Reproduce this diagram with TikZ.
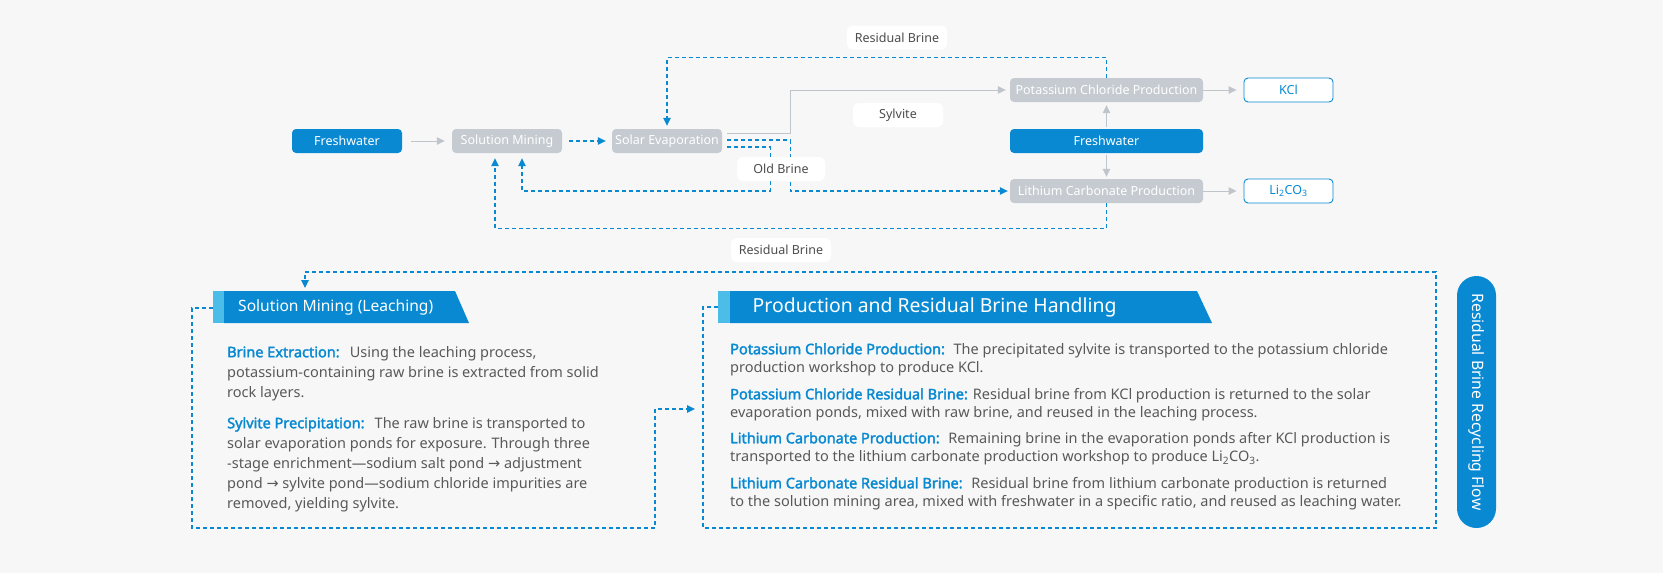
\documentclass[tikz,border=0pt]{standalone}
\usepackage{fontspec}
\setmainfont{Noto Sans}[AutoFakeBold=2.2]
\newfontfamily\symfont{DejaVu Sans}
\usetikzlibrary{arrows.meta}
\definecolor{bgc}{HTML}{F7F7F7}
\definecolor{mainblue}{HTML}{0889D2}
\definecolor{lightblue}{HTML}{4BBDE8}
\definecolor{boxgray}{HTML}{C5CBD0}
\definecolor{arrowgray}{HTML}{BFC5CA}
\definecolor{bodygray}{HTML}{595959}
\definecolor{labelgray}{HTML}{4D4D4D}
\newcommand{\hd}[1]{{\color{mainblue}\bfseries #1}}
\newcommand{\myarr}{{\symfont →}}
\begin{document}
\begin{tikzpicture}[x=1pt,y=-1pt,
  box/.style={rounded corners=4pt, minimum width=110pt, minimum height=24pt, inner sep=0pt, font=\fontsize{12.5}{14}\selectfont, text=white},
  graybox/.style={box, fill=boxgray},
  bluebox/.style={box, fill=mainblue},
  outbox/.style={box, fill=white, draw=mainblue, line width=0.9pt, text=mainblue, minimum width=89pt},
  lbl/.style={rounded corners=6pt, fill=white, minimum height=24pt, inner sep=0pt, font=\fontsize{12.5}{14}\selectfont, text=labelgray},
  garrow/.style={draw=arrowgray, line width=1pt, -{Triangle[length=8pt,width=7.5pt]}},
  darrow/.style={draw=mainblue, line width=1.1pt, dash pattern=on 4pt off 3pt, -{Triangle[length=8pt,width=7.5pt]}},
  para/.style={anchor=north west, inner sep=0pt, align=left, text=bodygray, font=\fontsize{14.5}{20}\selectfont},
  rpara/.style={para, font=\fontsize{14.5}{18.5}\selectfont},
]
\fill[bgc] (0,0) rectangle (1663,573);
\useasboundingbox (0,0) rectangle (1663,573);

% top flow
\node[bluebox] (fw1) at (347,141) {Freshwater};
\node[graybox] (sm) at (507,141) {Solution Mining};
\node[graybox] (se) at (667,141) {Solar Evaporation};
\node[graybox, minimum width=193pt] (kcp) at (1106.5,90) {Potassium Chloride Production};
\node[bluebox, minimum width=193pt] (fw2) at (1106.5,141) {Freshwater};
\node[graybox, minimum width=193pt] (lcp) at (1106.5,191) {Lithium Carbonate Production};
\node[outbox] (kcl) at (1288.5,90) {KCl};
\node[outbox] (li) at (1288.5,191) {Li\textsubscript{2}CO\textsubscript{3}};

\draw[garrow, shorten <=9pt, shorten >=7pt] (fw1) -- (sm);
\draw[darrow, shorten <=7pt, shorten >=6pt] (sm) -- (se);
\draw[darrow, shorten >=3pt] (kcp.north) -- ++(0,-20) -| (se.north);
\draw[garrow, shorten >=4pt] ([xshift=5pt,yshift=8pt]se.east) -- ++(63,0) |- (kcp.west);
\draw[darrow, shorten >=2pt] ([xshift=5pt,yshift=1pt]se.east) -- ++(63,0) |- (lcp.west);
\draw[darrow, shorten >=5pt] ([xshift=5pt,yshift=-6pt]se.east) -- ++(43,0) -- ++(0,44) -| ([xshift=15pt]sm.south);
\draw[darrow, shorten >=5pt] (lcp.south) -- ++(0,25) -| ([xshift=-12pt]sm.south);
\draw[garrow, shorten <=2pt, shorten >=3pt] (fw2) -- (kcp);
\draw[garrow, shorten <=2pt, shorten >=2pt] (fw2) -- (lcp);
\draw[garrow, shorten >=7pt] (kcp) -- (kcl);
\draw[garrow, shorten >=7pt] (lcp) -- (li);

\node[lbl, minimum width=100pt] (rb1) at (897,37.5) {Residual Brine};
\node[lbl, minimum width=90pt] (syl) at (898,115) {Sylvite};
\node[lbl, minimum width=88pt] (ob) at (781,169) {Old Brine};
\node[lbl, minimum width=100pt] (rb2) at (781,250) {Residual Brine};

% bottom headers
\fill[mainblue] (224,291) -- (455,291) -- (469,323) -- (224,323) -- cycle;
\fill[lightblue] (213,291) rectangle (224,323);
\node[anchor=west, inner sep=0pt, text=white, font=\fontsize{15.6}{18}\selectfont] (lht) at (238,307) {Solution Mining (Leaching)};
\fill[mainblue] (730,291) -- (1197,291) -- (1212,323) -- (730,323) -- cycle;
\fill[lightblue] (718,291) rectangle (730,323);
\node[anchor=west, inner sep=0pt, text=white, font=\fontsize{19.4}{22}\selectfont] (rht) at (752.5,307) {Production and Residual Brine Handling};

\coordinate (lhL) at (213,308);
\coordinate (lhT) at (305,291);
\coordinate (rhL) at (718,307);
\coordinate (rpL) at (703,409);
\draw[darrow, shorten >=3pt] (rhL) -- ++(-15,0) -- ++(0,221) -- ++(733,0) -- ++(0,-256) -| (lhT);
\draw[darrow, shorten >=8pt] (lhL) -- ++(-21,0) -- ++(0,220) -- ++(463,0) -- ++(0,-119) -- (rpL);

% left text
\node[para] (p1) at (227,346) {\hd{Brine Extraction:}\hspace{0.7em}Using the leaching process,\\potassium-containing raw brine is extracted from solid\\rock layers.};
\node[para] (p2) at (227,417) {\hd{Sylvite Precipitation:}\hspace{0.7em}The raw brine is transported to\\solar evaporation ponds for exposure. Through three\\-stage enrichment—sodium salt pond \myarr{} adjustment\\pond \myarr{} sylvite pond—sodium chloride impurities are\\removed, yielding sylvite.};

% right text
\node[rpara] (r1) at (730,343) {\hd{Potassium Chloride Production:}\hspace{0.6em}The precipitated sylvite is transported to the potassium chloride\\production workshop to produce KCl.};
\node[rpara] (r2) at (730,388) {\hd{Potassium Chloride Residual Brine:} Residual brine from KCl production is returned to the solar\\evaporation ponds, mixed with raw brine, and reused in the leaching process.};
\node[rpara] (r3) at (730,432) {\hd{Lithium Carbonate Production:}\hspace{0.6em}Remaining brine in the evaporation ponds after KCl production is\\transported to the lithium carbonate production workshop to produce Li\textsubscript{2}CO\textsubscript{3}.};
\node[rpara] (r4) at (730,477) {\hd{Lithium Carbonate Residual Brine:}\hspace{0.6em}Residual brine from lithium carbonate production is returned\\to the solution mining area, mixed with freshwater in a specific ratio, and reused as leaching water.};

% pill
\node[fill=mainblue, rounded corners=19.5pt, rotate=-90, minimum width=252pt, minimum height=39pt, inner sep=0pt, text=white, font=\fontsize{15.7}{18}\selectfont] (pill) at (1476.5,402) {Residual Brine Recycling Flow};
\end{tikzpicture}
\end{document}
